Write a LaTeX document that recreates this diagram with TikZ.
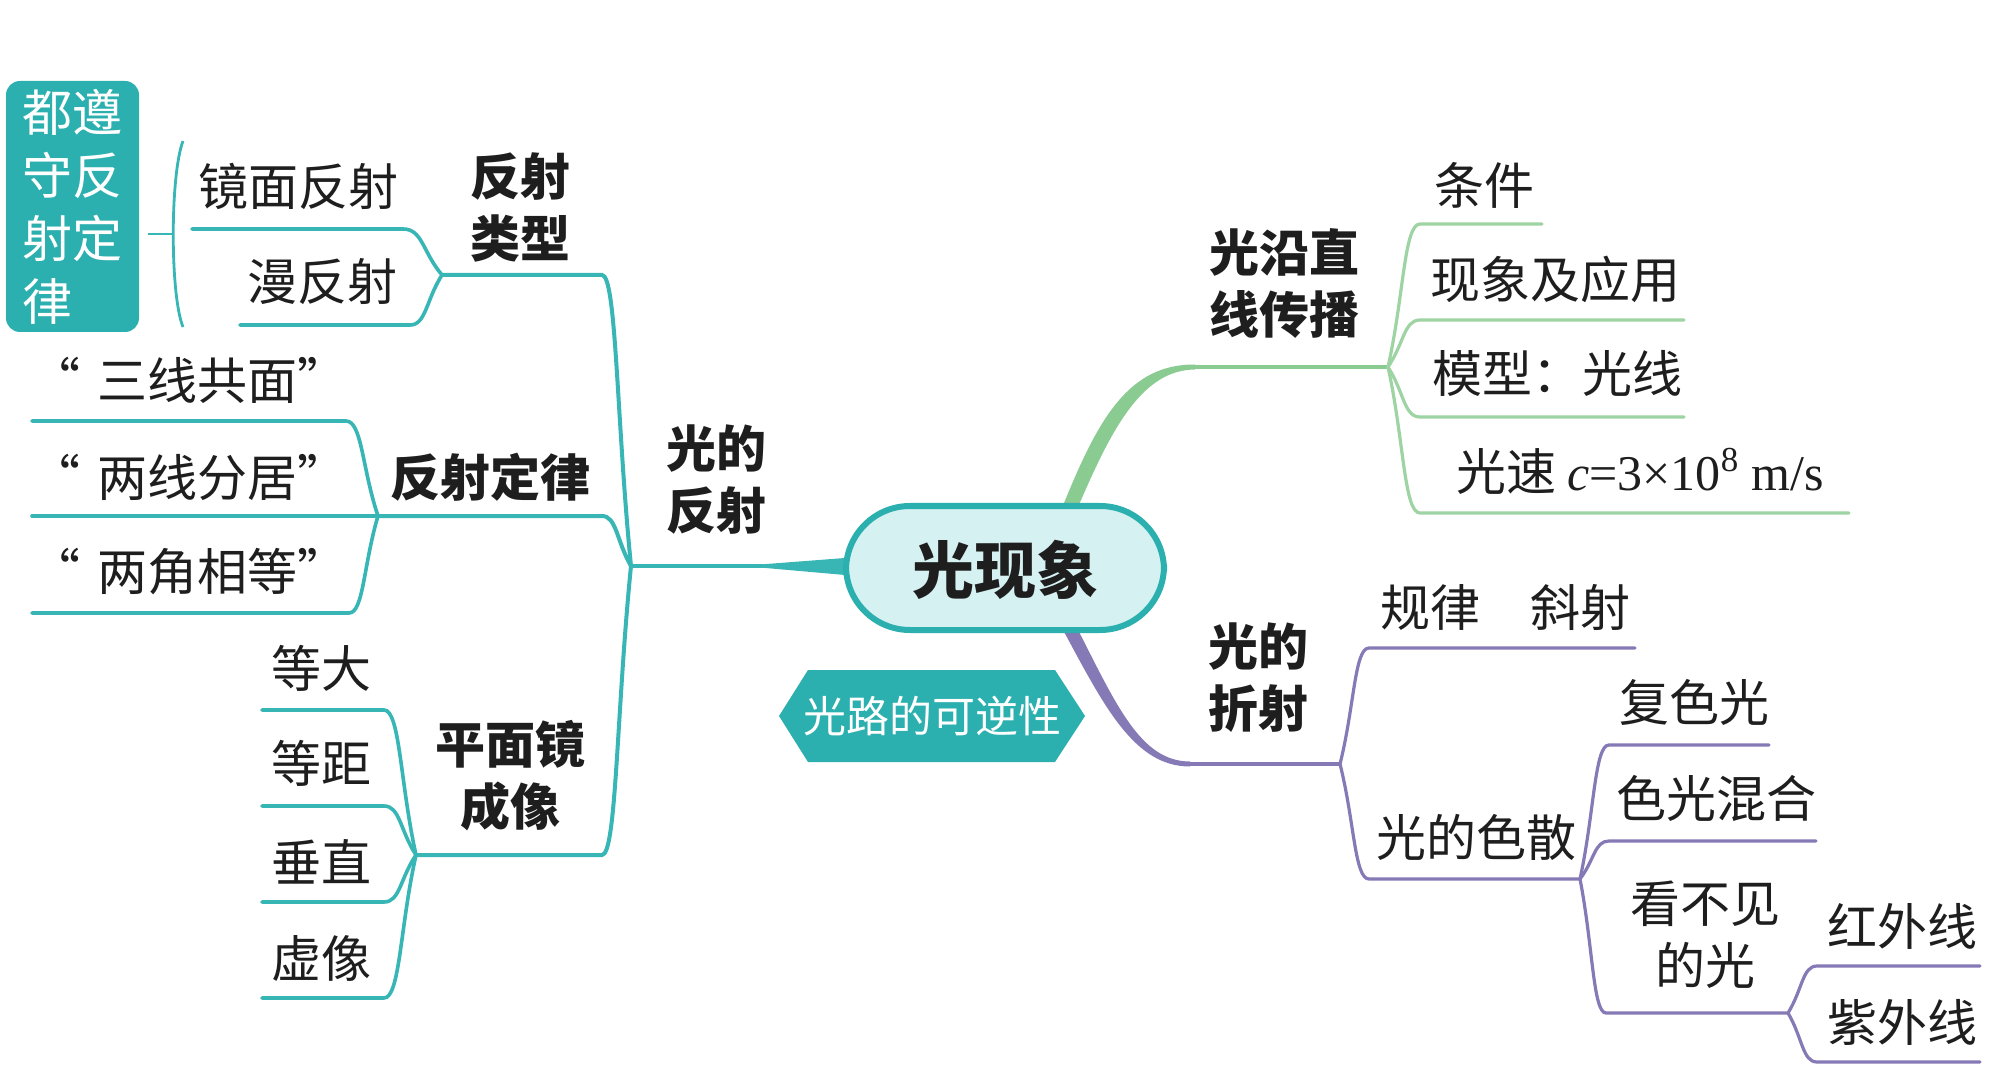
\documentclass[tikz,border=0pt]{standalone}
\usepackage{fontspec}
\newfontfamily\cjk{Noto Sans CJK SC}
\newfontfamily\tms{Liberation Serif}
\usetikzlibrary{calc}
\definecolor{tealL}{HTML}{38B6B6}
\definecolor{tealF}{HTML}{2BB0AF}
\definecolor{tealE}{HTML}{D6F1F1}
\definecolor{grn}{HTML}{8ACB92}
\definecolor{grnL}{HTML}{9ED3A3}
\definecolor{pur}{HTML}{8579B6}
\definecolor{ink}{HTML}{1E1E1E}
\newcommand{\myLq}{“\hspace{9pt}}
\newcommand{\myRq}{”}
\tikzset{
  br/.style={to path={let \p1=(\tikztostart), \p2=(\tikztotarget) in
     .. controls ({\x1+0.5*(\x2-\x1)},{\y1+0.5*(\y2-\y1)}) and ({\x1+0.5*(\x2-\x1)},{\y2}) .. (\tikztotarget)}},
  tl/.style={draw=tealL, line width=1.8pt, line cap=round},
  gl/.style={draw=grnL, line width=1.6pt, line cap=round},
  pl/.style={draw=pur, line width=1.6pt, line cap=round},
  txt/.style={inner sep=0pt, text=ink, font=\cjk\fontsize{25pt}{31pt}\selectfont, align=center},
  ttl/.style={inner sep=0pt, text=ink, font=\cjk\bfseries\fontsize{25pt}{31pt}\selectfont, align=center},
}
\begin{document}
\begin{tikzpicture}[x=0.5pt,y=-0.5pt]
\fill[white] (0,0) rectangle (2008,1080);
\useasboundingbox (0,0) rectangle (2008,1080);

% ---------- coordinates ----------
\coordinate (J1) at (631,566); \coordinate (JE) at (762,566);
\coordinate (T1e) at (602,275); \coordinate (J2) at (442,275);
\coordinate (a1s) at (192,229); \coordinate (a1e) at (403,229);
\coordinate (a2s) at (240,325); \coordinate (a2e) at (410,325);
\coordinate (T2e) at (602,516); \coordinate (J3) at (378,516);
\coordinate (b1s) at (32,421); \coordinate (b1e) at (346,421);
\coordinate (b2s) at (32,516);
\coordinate (b3s) at (32,613); \coordinate (b3e) at (349,613);
\coordinate (T3e) at (602,855); \coordinate (J4) at (416,855);
\coordinate (c1s) at (262,710); \coordinate (c1e) at (384,710);
\coordinate (c2s) at (262,806); \coordinate (c2e) at (384,806);
\coordinate (c3s) at (262,902); \coordinate (c3e) at (384,902);
\coordinate (c4s) at (262,998); \coordinate (c4e) at (384,998);
\coordinate (G0) at (1195,367); \coordinate (J5) at (1388,367);
\coordinate (d1s) at (1420,224); \coordinate (d1e) at (1542,224);
\coordinate (d2s) at (1420,320); \coordinate (d2e) at (1684,320);
\coordinate (d3s) at (1420,417); \coordinate (d3e) at (1684,417);
\coordinate (d4s) at (1420,513); \coordinate (d4e) at (1849,513);
\coordinate (P0) at (1185,764); \coordinate (J6) at (1340,764);
\coordinate (e1s) at (1369,648); \coordinate (e1e) at (1635,648);
\coordinate (e2s) at (1369,879); \coordinate (J7) at (1580,879);
\coordinate (f1s) at (1609,745); \coordinate (f1e) at (1769,745);
\coordinate (f2s) at (1609,841); \coordinate (f2e) at (1816,841);
\coordinate (f3s) at (1606,1013); \coordinate (J8) at (1788,1013);
\coordinate (g1s) at (1817,966); \coordinate (g1e) at (1980,966);
\coordinate (g2s) at (1817,1062); \coordinate (g2e) at (1980,1062);

% ---------- left (teal) ----------
\draw[tl] (J1) -- (JE);
\fill[tealL] (760,564.5) -- (845,558) -- (845,575) -- (760,567.5) -- cycle;
\draw[tl, line width=2pt] (J1) to[br] (T1e) -- (J2);
\draw[tl, line width=2pt] (J1) to[br] (T2e) -- (J3);
\draw[tl, line width=2pt] (J1) to[br] (T3e) -- (J4);
\draw[tl] (J2) to[br] (a1e) -- (a1s);
\draw[tl] (J2) to[br] (a2e) -- (a2s);
\draw[tl] (J3) to[br] (b1e) -- (b1s);
\draw[tl] (J3) -- (b2s);
\draw[tl] (J3) to[br] (b3e) -- (b3s);
\draw[tl] (J4) to[br] (c1e) -- (c1s);
\draw[tl] (J4) to[br] (c2e) -- (c2s);
\draw[tl] (J4) to[br] (c3e) -- (c3s);
\draw[tl] (J4) to[br] (c4e) -- (c4s);
% bracket
\coordinate (k1) at (183,141); \coordinate (k2) at (183,327);
\coordinate (k3) at (148,234); \coordinate (k4) at (173,234);
\draw[tealL, line width=1.4pt] (k1) .. controls (170,175) and (170,295) .. (k2);
\draw[tealL, line width=1.4pt] (k3) -- (k4);

% ---------- right top (green) ----------
\fill[grn] (1064,503) .. controls (1098,420) and (1128,364) .. (1195,364.5)
   -- (1195,369.5) .. controls (1142,370) and (1112,428) .. (1078,507) -- cycle;
\draw[grn, line width=2.2pt] (G0) -- (J5);
\draw[gl] (J5) to[br] (d1s) -- (d1e);
\draw[gl] (J5) to[br] (d2s) -- (d2e);
\draw[gl] (J5) to[br] (d3s) -- (d3e);
\draw[gl] (J5) to[br] (d4s) -- (d4e);

% ---------- right bottom (purple) ----------
\fill[pur] (1062,628) .. controls (1104,706) and (1134,766.5) .. (1190,766.5)
   -- (1190,761.5) .. controls (1140,761.5) and (1116,704) .. (1075,624) -- cycle;
\draw[pur, line width=2.2pt] (P0) -- (J6);
\draw[pl] (J6) to[br] (e1s) -- (e1e);
\draw[pl] (J6) to[br] (e2s) -- (J7);
\draw[pl] (J7) to[br] (f1s) -- (f1e);
\draw[pl] (J7) to[br] (f2s) -- (f2e);
\draw[pl] (J7) to[br] (f3s) -- (J8);
\draw[pl] (J8) to[br] (g1s) -- (g1e);
\draw[pl] (J8) to[br] (g2s) -- (g2e);

% ---------- centre ----------
\node[draw=tealF, line width=3pt, fill=tealE, rounded corners=32pt,
      minimum width=159pt, minimum height=62pt, inner sep=0pt] (root) at (1005,568) {};
\node[ttl, font=\cjk\bfseries\fontsize{31pt}{36pt}\selectfont] (rootT) at (1005,570) {光现象};

\fill[tealF] (779,716) -- (808,670) -- (1055,670) -- (1085,716) -- (1055,762) -- (808,762) -- cycle;
\node[inner sep=0pt, text=white, font=\cjk\fontsize{21.5pt}{25pt}\selectfont] (hex) at (932,716) {光路的可逆性};

\node[fill=tealF, rounded corners=7pt, minimum width=66.5pt, minimum height=125.5pt,
      inner sep=0pt, text=white, align=left, font=\cjk\fontsize{25pt}{31.5pt}\selectfont] (box) at (72.5,206.5) {都遵\\守反\\射定\\律};

% ---------- labels ----------
\node[ttl] (n1) at (716,480) {光的\\反射};
\node[ttl] (n2) at (520,207) {反射\\类型};
\node[ttl] (n3) at (490,477) {反射定律};
\node[ttl] (n4) at (510,776) {平面镜\\成像};
\node[txt] (m1) at (298,186) {镜面反射};
\node[txt] (m2) at (322,282) {漫反射};
\node[txt] (m3) at (189,380) {\myLq 三线共面\myRq};
\node[txt] (m4) at (189,477) {\myLq 两线分居\myRq};
\node[txt] (m5) at (189,572) {\myLq 两角相等\myRq};
\node[txt] (m6) at (321,668) {等大};
\node[txt] (m7) at (321,763) {等距};
\node[txt] (m8) at (321,862) {垂直};
\node[txt] (m9) at (321,958) {虚像};

\node[ttl] (n5) at (1284,284) {光沿直\\线传播};
\node[txt] (r1) at (1484,185) {条件};
\node[txt] (r2) at (1555,279) {现象及应用};
\node[txt] (r3) at (1557,373) {模型：光线};
\node[txt] (r4) at (1640,471) {光速 {\tms\itshape c}{\tms =3×10\textsuperscript{8} m/s}};

\node[ttl] (n6) at (1258,678) {光的\\折射};
\node[txt] (s1) at (1505,607) {规律　斜射};
\node[txt] (s2) at (1476,837) {光的色散};
\node[txt] (s3) at (1694,702) {复色光};
\node[txt] (s4) at (1716,798) {色光混合};
\node[txt] (s5) at (1705,935) {看不见\\的光};
\node[txt] (s6) at (1902,926) {红外线};
\node[txt] (s7) at (1902,1022) {紫外线};
\end{tikzpicture}
\end{document}
